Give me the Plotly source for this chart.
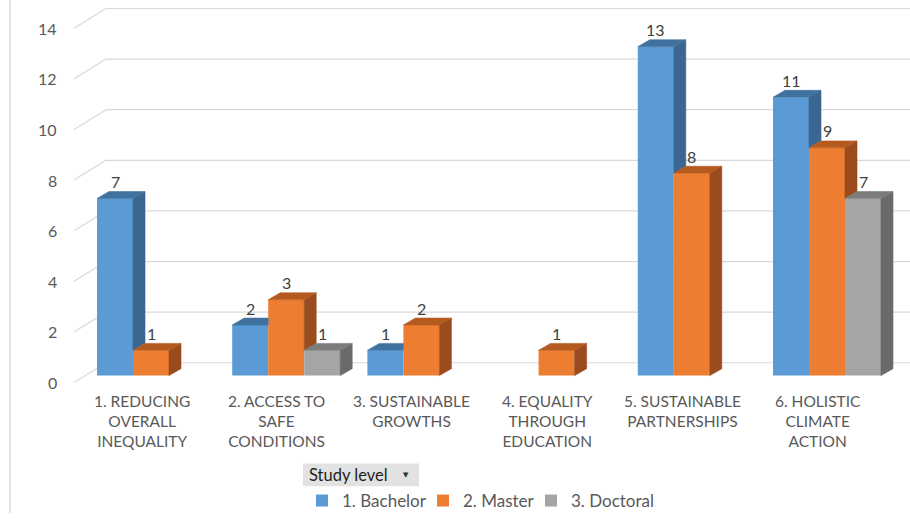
import plotly.graph_objects as go

# ---------------- data ----------------
categories = [
    "1. REDUCING<br>OVERALL<br>INEQUALITY",
    "2. ACCESS TO<br>SAFE<br>CONDITIONS",
    "3. SUSTAINABLE<br>GROWTHS",
    "4. EQUALITY<br>THROUGH<br>EDUCATION",
    "5. SUSTAINABLE<br>PARTNERSHIPS",
    "6. HOLISTIC<br>CLIMATE<br>ACTION",
]
series_names = ["1. Bachelor", "2. Master", "3. Doctoral"]
bachelor = [7, 2, 1, 0, 13, 11]
master = [1, 3, 2, 1, 8, 9]
doctoral = [0, 1, 0, 0, 0, 7]
y_ticks = [0, 2, 4, 6, 8, 10, 12, 14]

# ---------------- style ----------------
front_colors = ["#5B9BD5", "#ED7D31", "#A5A5A5"]
side_colors = ["#3A6690", "#9A4C1E", "#6A6A6A"]
top_colors = ["#41729F", "#B55A1F", "#7C7C7C"]
FONT = "Lato"
TEXT_COLOR = "#595959"
GRID_COLOR = "#D9D9D9"

W, H = 910, 519
# pixel geometry (layout only)
PX_PER_CAT = 135.2
PX_PER_UNIT = 25.6
X0_PX = 151.0   # pixel of category 0 centre
Y0_PX = 380.0   # pixel of value 0 (front face base)

def px_x(p):
    return (p - X0_PX) / PX_PER_CAT

def px_y(q):
    return (Y0_PX - q) / PX_PER_UNIT

bar_w = 36 / PX_PER_CAT
depth_dx = 12 / PX_PER_CAT
depth_dy = 7 / PX_PER_UNIT
wall_back_dy = 13 / PX_PER_UNIT       # back wall gridline offset
wall_front_dy = -7 / PX_PER_UNIT      # front floor edge offset
wall_back_x = px_x(106)
wall_front_x = px_x(74)

all_series = [bachelor, master, doctoral]
offsets = [-1.5 * bar_w, -0.5 * bar_w, 0.5 * bar_w]
legend_ids = ["legend", "legend2", "legend3"]
legend_x_px = [302, 423, 531]
xs = list(range(len(categories)))

fig = go.Figure()

# front faces as bars
for s, vals in enumerate(all_series):
    fig.add_trace(go.Bar(
        x=xs,
        y=[v if v > 0 else None for v in vals],
        width=bar_w,
        offset=offsets[s],
        name=series_names[s],
        legend=legend_ids[s],
        marker=dict(color=front_colors[s], line=dict(width=0)),
        hoverinfo="skip",
    ))

# side & top faces
for s, vals in enumerate(all_series):
    sx, sy, tx, ty = [], [], [], []
    for i, v in enumerate(vals):
        if v <= 0:
            continue
        xl = i + offsets[s]
        xr = xl + bar_w
        nxt = all_series[s + 1][i] if s + 1 < len(all_series) else 0
        if nxt < v:
            base = nxt
            sx += [xr, xr + depth_dx, xr + depth_dx, xr, xr, None]
            sy += [base, base + depth_dy, v + depth_dy, v, base, None]
            tr = xr + depth_dx
        else:
            tr = xr
        tx += [xl, xl + depth_dx, tr, xr, xl, None]
        ty += [v, v + depth_dy, v + depth_dy, v, v, None]
    fig.add_trace(go.Scatter(x=sx, y=sy, mode="lines", fill="toself",
                             fillcolor=side_colors[s], line=dict(width=0.6, color=side_colors[s]),
                             showlegend=False, hoverinfo="skip"))
    fig.add_trace(go.Scatter(x=tx, y=ty, mode="lines", fill="toself",
                             fillcolor=top_colors[s], line=dict(width=0.6, color=top_colors[s]),
                             showlegend=False, hoverinfo="skip"))

shapes = []
annotations = []
x_max = px_x(W)
for t in y_ticks:
    # back wall gridline
    shapes.append(dict(type="line", xref="x", yref="y", layer="below",
                       x0=wall_back_x, x1=x_max, y0=t + wall_back_dy, y1=t + wall_back_dy,
                       line=dict(color=GRID_COLOR, width=1.2)))
    # side wall slanted gridline
    shapes.append(dict(type="line", xref="x", yref="y", layer="below",
                       x0=wall_front_x, x1=wall_back_x, y0=t + wall_front_dy, y1=t + wall_back_dy,
                       line=dict(color=GRID_COLOR, width=1.2)))
    annotations.append(dict(x=px_x(59), y=t + wall_front_dy, xref="x", yref="y",
                            text=str(t), showarrow=False, xanchor="right", yanchor="middle",
                            font=dict(family=FONT, size=16, color=TEXT_COLOR)))

# chart left border
shapes.append(dict(type="line", xref="paper", yref="paper", x0=10 / W, x1=10 / W, y0=0, y1=1,
                   line=dict(color=GRID_COLOR, width=1.5)))

# value labels
for s, vals in enumerate(all_series):
    for i, v in enumerate(vals):
        if v <= 0:
            continue
        annotations.append(dict(x=i + offsets[s] + bar_w / 2, y=v, xref="x", yref="y",
                                text=str(v), showarrow=False, yanchor="middle", yshift=17,
                                font=dict(family=FONT, size=16, color="#404040")))

# category labels
for i, c in enumerate(categories):
    annotations.append(dict(x=i - 0.07, y=px_y(395), xref="x", yref="y",
                            text=c, showarrow=False, xanchor="center", yanchor="top",
                            font=dict(family=FONT, size=15.5, color=TEXT_COLOR)))

# "Study level" field button
shapes.append(dict(type="rect", xref="paper", yref="paper",
                   x0=303 / W, x1=419 / W, y0=1 - 492 / H, y1=1 - 469 / H,
                   fillcolor="#E2E2E2", line=dict(width=0)))
annotations.append(dict(x=307 / W, y=1 - 480.5 / H, xref="paper", yref="paper",
                        text="Study level", showarrow=False, xanchor="left", yanchor="middle",
                        font=dict(family=FONT, size=16.5, color="#1F1F1F")))
annotations.append(dict(x=406 / W, y=1 - 480.5 / H, xref="paper", yref="paper",
                        text="▼", showarrow=False, xanchor="center", yanchor="middle",
                        font=dict(family="DejaVu Sans", size=7, color="#333333")))

legend_common = dict(orientation="h", yanchor="middle", xanchor="left", y=1 - 507 / H,
                     font=dict(family=FONT, size=17, color=TEXT_COLOR),
                     bgcolor="rgba(0,0,0,0)", itemclick=False, itemdoubleclick=False)

fig.update_layout(
    width=W, height=H,
    margin=dict(l=0, r=0, t=0, b=0),
    paper_bgcolor="white", plot_bgcolor="white",
    barmode="overlay",
    xaxis=dict(range=[px_x(0), px_x(W)], visible=False, fixedrange=True),
    yaxis=dict(range=[px_y(H), px_y(0)], visible=False, fixedrange=True),
    shapes=shapes,
    annotations=annotations,
    showlegend=True,
    legend=dict(x=legend_x_px[0] / W, **legend_common),
    legend2=dict(x=legend_x_px[1] / W, **legend_common),
    legend3=dict(x=legend_x_px[2] / W, **legend_common),
)

fig.write_html("out.html", config={"displayModeBar": False},
               post_script="document.body.style.margin='0';document.body.style.overflow='hidden';")
